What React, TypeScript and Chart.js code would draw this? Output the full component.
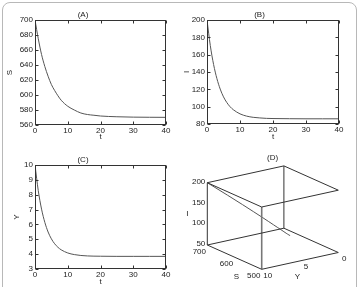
import React, { useEffect, useRef } from 'react';
import { Chart, registerables } from 'chart.js';

Chart.register(...registerables);

// ---- data ----
const T = [0, 1, 2, 3, 4, 5, 6, 7, 8, 10, 12, 14, 16, 18, 20, 25, 30, 35, 40];
const S_VALUES = [700, 675, 654, 638, 625, 614, 606, 599, 593, 585, 580, 576, 574, 573, 572, 571, 570.5, 570.3, 570.2];
const I_VALUES = [200, 170.5, 148.6, 132.4, 120.3, 111.3, 104.8, 99.9, 96.4, 91.7, 89.1, 87.7, 87, 86.5, 86.3, 86.1, 86, 86, 86];
const Y_VALUES = [10, 8.27, 7.03, 6.14, 5.49, 5.03, 4.7, 4.46, 4.29, 4.08, 3.97, 3.91, 3.88, 3.865, 3.86, 3.85, 3.85, 3.85, 3.85];

const T_TICKS = [0, 10, 20, 30, 40];
const S_TICKS = [560, 580, 600, 620, 640, 660, 680, 700];
const I_TICKS = [80, 100, 120, 140, 160, 180, 200];
const Y_TICKS = [3, 4, 5, 6, 7, 8, 9, 10];

// 3D panel ranges and ticks
const S_RANGE = [500, 700];
const Y_RANGE = [0, 10];
const I_RANGE = [50, 200];
const S3_TICKS = [500, 600, 700];
const Y3_TICKS = [0, 5, 10];
const I3_TICKS = [50, 100, 150, 200];

const FONT = "'Liberation Sans', Arial, sans-serif";
const AXIS = '#333';
const CURVE = '#555';
const TEXT = '#222';

const boxPlugin = {
  id: 'boxTicks',
  afterDraw(chart: any) {
    const { ctx, chartArea: a, scales } = chart;
    ctx.save();
    ctx.strokeStyle = AXIS;
    ctx.lineWidth = 1;
    const L = Math.round(a.left) + 0.5, R = Math.round(a.right) - 0.5;
    const Tp = Math.round(a.top) + 0.5, B = Math.round(a.bottom) - 0.5;
    ctx.strokeRect(L, Tp, R - L, B - Tp);
    ctx.beginPath();
    scales.x.ticks.forEach((t: any) => {
      const px = Math.round(scales.x.getPixelForValue(t.value)) + 0.5;
      ctx.moveTo(px, B); ctx.lineTo(px, B - 3);
      ctx.moveTo(px, Tp); ctx.lineTo(px, Tp + 3);
    });
    scales.y.ticks.forEach((t: any) => {
      const py = Math.round(scales.y.getPixelForValue(t.value)) + 0.5;
      ctx.moveTo(L, py); ctx.lineTo(L + 3, py);
      ctx.moveTo(R, py); ctx.lineTo(R - 3, py);
    });
    ctx.stroke();
    ctx.restore();
  },
};

type PanelProps = {
  left: number; top: number; width: number; height: number;
  padRight: number; yWidth: number; xHeight: number;
  yTitlePad: number; xTitlePad: number;
  title: string; yLabel: string; values: number[]; yTicks: number[];
};

function LinePanel(p: PanelProps) {
  const ref = useRef<HTMLCanvasElement>(null);
  useEffect(() => {
    const yMin = p.yTicks[0], yMax = p.yTicks[p.yTicks.length - 1];
    const chart = new Chart(ref.current!, {
      type: 'line',
      data: {
        datasets: [{
          data: T.map((t, i) => ({ x: t, y: p.values[i] })),
          borderColor: CURVE,
          borderWidth: 1,
          pointRadius: 0,
          cubicInterpolationMode: 'monotone',
          fill: false,
        }],
      },
      options: {
        responsive: false,
        animation: false,
        layout: { padding: { top: 0, right: p.padRight, left: 0, bottom: 0 } },
        plugins: {
          legend: { display: false },
          tooltip: { enabled: false },
          title: {
            display: true, text: p.title, color: TEXT,
            font: { family: FONT, size: 8, weight: 'normal' },
            padding: { top: 9.5, bottom: 0.9 },
          },
        },
        scales: {
          x: {
            type: 'linear', min: T_TICKS[0], max: T_TICKS[T_TICKS.length - 1],
            afterBuildTicks: (s: any) => { s.ticks = T_TICKS.map((v) => ({ value: v })); },
            afterFit: (s: any) => { s.height = p.xHeight; },
            grid: { display: false, drawTicks: false },
            border: { display: false },
            ticks: { color: TEXT, font: { family: FONT, size: 8 }, padding: 1, maxRotation: 0, autoSkip: false },
            title: { display: true, text: 't', color: TEXT, font: { family: FONT, size: 8 }, padding: { top: 0, bottom: p.xTitlePad } },
          },
          y: {
            type: 'linear', min: yMin, max: yMax,
            afterBuildTicks: (s: any) => { s.ticks = p.yTicks.map((v) => ({ value: v })); },
            afterFit: (s: any) => { s.width = p.yWidth; },
            grid: { display: false, drawTicks: false },
            border: { display: false },
            ticks: { color: TEXT, font: { family: FONT, size: 8 }, padding: 2, autoSkip: false },
            title: { display: true, text: p.yLabel, color: TEXT, font: { family: FONT, size: 8 }, padding: { top: p.yTitlePad, bottom: 0 } },
          },
        },
      } as any,
      plugins: [boxPlugin],
    });
    return () => chart.destroy();
  }, []);
  return (
    <canvas ref={ref} width={p.width} height={p.height}
      style={{ position: 'absolute', left: p.left, top: p.top, width: p.width, height: p.height }} />
  );
}

// projection of the 3D box onto the panel
const ORIGIN = { x: 27.3, y: 100 };
const S_VEC = { x: 54.4, y: 24.3 };
const Y_VEC = { x: 76.6, y: -16.8 };
const I_VEC = { x: 0, y: -62.3 };

function project(S: number, Y: number, I: number) {
  const u = (S_RANGE[1] - S) / (S_RANGE[1] - S_RANGE[0]);
  const v = (Y_RANGE[1] - Y) / (Y_RANGE[1] - Y_RANGE[0]);
  const w = (I - I_RANGE[0]) / (I_RANGE[1] - I_RANGE[0]);
  return {
    x: ORIGIN.x + u * S_VEC.x + v * Y_VEC.x + w * I_VEC.x,
    y: ORIGIN.y + u * S_VEC.y + v * Y_VEC.y + w * I_VEC.y,
  };
}

function Panel3D() {
  const ref = useRef<HTMLCanvasElement>(null);
  useEffect(() => {
    const [s0, s1] = [S_RANGE[1], S_RANGE[0]]; // 700 (left/back), 500 (front/right)
    const [y0, y1] = [Y_RANGE[1], Y_RANGE[0]]; // 10, 0
    const [i0, i1] = [I_RANGE[0], I_RANGE[1]];
    const c = (s: number, y: number, i: number) => project(s, y, i);
    const edges: [any, any, number, string][] = [
      // top face
      [c(s0, y0, i1), c(s0, y1, i1), 1, AXIS],
      [c(s0, y1, i1), c(s1, y1, i1), 1, AXIS],
      [c(s1, y1, i1), c(s1, y0, i1), 1, AXIS],
      [c(s1, y0, i1), c(s0, y0, i1), 1, AXIS],
      // bottom face
      [c(s0, y0, i0), c(s1, y0, i0), 1, AXIS],
      [c(s1, y0, i0), c(s1, y1, i0), 1, AXIS],
      [c(s1, y1, i0), c(s0, y1, i0), 1, AXIS],
      [c(s0, y1, i0), c(s0, y0, i0), 1, AXIS],
      // verticals
      [c(s0, y0, i0), c(s0, y0, i1), 1, AXIS],
      [c(s0, y1, i0), c(s0, y1, i1), 1, AXIS],
      [c(s1, y0, i0), c(s1, y0, i1), 1.6, '#777'],
    ];
    const datasets: any[] = edges.map(([a, b, w, col]) => ({
      data: [a, b], showLine: true, borderColor: col, borderWidth: w, pointRadius: 0,
    }));
    datasets.push({
      data: T.map((_, k) => project(S_VALUES[k], Y_VALUES[k], I_VALUES[k])),
      showLine: true, borderColor: CURVE, borderWidth: 1, pointRadius: 0,
    });

    const labels3D = {
      id: 'labels3D',
      afterDraw(chart: any) {
        const { ctx } = chart;
        const xs = chart.scales.x, ys = chart.scales.y;
        const P = (pt: { x: number; y: number }) => ({ x: xs.getPixelForValue(pt.x), y: ys.getPixelForValue(pt.y) });
        ctx.save();
        ctx.fillStyle = TEXT;
        ctx.font = `8px ${FONT}`;
        ctx.textBaseline = 'middle';
        // I ticks
        ctx.textAlign = 'right';
        I3_TICKS.forEach((v) => {
          const q = P(project(S_RANGE[1], Y_RANGE[1], v));
          ctx.fillText(String(v), q.x - 2, q.y - 1);
        });
        ctx.textAlign = 'center';
        S3_TICKS.forEach((v) => {
          const q = P(project(v, Y_RANGE[1], I_RANGE[0]));
          ctx.fillText(String(v), q.x - 8, q.y + 6.5);
        });
        Y3_TICKS.forEach((v) => {
          const q = P(project(S_RANGE[0], v, I_RANGE[0]));
          ctx.fillText(String(v), q.x + 6, q.y + 6);
        });
        const qi = P(project(S_RANGE[1], Y_RANGE[1], (I_RANGE[0] + I_RANGE[1]) / 2));
        ctx.fillText('I', qi.x - 20, qi.y);
        const qs = P(project((S_RANGE[0] + S_RANGE[1]) / 2, Y_RANGE[1], I_RANGE[0]));
        ctx.fillText('S', qs.x + 2, qs.y + 19.5);
        const qy = P(project(S_RANGE[0], (Y_RANGE[0] + Y_RANGE[1]) / 2, I_RANGE[0]));
        ctx.fillText('Y', qy.x - 2.5, qy.y + 16);
        const qt = P(project(S_RANGE[1], Y_RANGE[0], I_RANGE[1]));
        ctx.fillText('(D)', qt.x - 11.3, qt.y - 8.6);
        ctx.restore();
      },
    };

    const chart = new Chart(ref.current!, {
      type: 'scatter',
      data: { datasets },
      options: {
        responsive: false,
        animation: false,
        layout: { padding: 0 },
        plugins: { legend: { display: false }, tooltip: { enabled: false } },
        scales: {
          x: { type: 'linear', min: 0, max: 180, display: false },
          y: { type: 'linear', min: 0, max: 142, reverse: true, display: false },
        },
      } as any,
      plugins: [labels3D],
    });
    return () => chart.destroy();
  }, []);
  return (
    <canvas ref={ref} width={180} height={142}
      style={{ position: 'absolute', left: 180, top: 145, width: 180, height: 142 }} />
  );
}

export default function App() {
  return (
    <div style={{ position: 'fixed', left: 0, top: 0, width: 360, height: 287, background: '#fff', overflow: 'hidden' }}>
      <div style={{
        position: 'absolute', left: 2, top: 2, width: 353, height: 330,
        border: '1.5px solid #b8b8b8', borderRadius: 8,
      }} />
      <LinePanel left={0} top={0} width={180} height={145} padRight={14} yWidth={35} xHeight={20}
        yTitlePad={5} xTitlePad={3} title="(A)" yLabel="S" values={S_VALUES} yTicks={S_TICKS} />
      <LinePanel left={180} top={0} width={180} height={145} padRight={21} yWidth={27} xHeight={21}
        yTitlePad={2} xTitlePad={3} title="(B)" yLabel="I" values={I_VALUES} yTicks={I_TICKS} />
      <LinePanel left={0} top={145} width={180} height={142} padRight={14} yWidth={35} xHeight={18}
        yTitlePad={12} xTitlePad={0} title="(C)" yLabel="Y" values={Y_VALUES} yTicks={Y_TICKS} />
      <Panel3D />
    </div>
  );
}
